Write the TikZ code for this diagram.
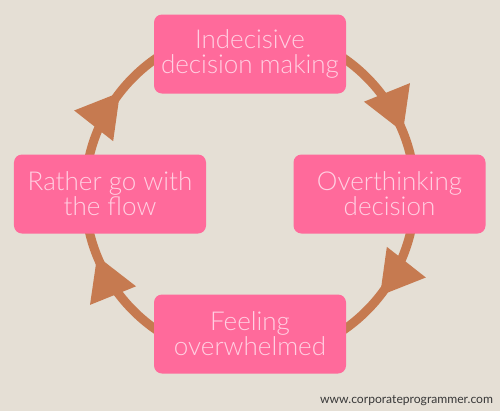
\documentclass[tikz,border=0pt]{standalone}
\usepackage{fontspec}
\newfontfamily\boxfont{Lato Light}
\newfontfamily\webfont{Lato}
\usetikzlibrary{arrows.meta,decorations.markings}
\definecolor{paper}{RGB}{229,223,213}
\definecolor{rust}{RGB}{198,122,80}
\definecolor{rose}{RGB}{255,106,155}
\definecolor{blush}{RGB}{255,208,226}

\begin{document}
\begin{tikzpicture}[every node/.style={outer sep=0pt},
 >={Triangle[length=0.86cm,width=0.94cm]},
 stage/.style={fill=rose,rounded corners=0.16cm,minimum width=3.84cm,
 minimum height=1.58cm,align=center,text=blush,
 font=\boxfont\fontsize{14.8}{14.2}\selectfont},
 ring/.style={draw=rust,line width=0.18cm,postaction={decorate},
 decoration={markings,
 mark=at position 0.189 with {\arrow{>}},
 mark=at position 0.356 with {\arrow{>}},
 mark=at position 0.689 with {\arrow{>}},
 mark=at position 0.856 with {\arrow{>}}}}]

\fill[paper] (-5,-4.34) rectangle (5,3.88);

\coordinate (hub) at (0,0);
\draw[ring] (hub) ++(90:3.3) arc[start angle=90,end angle=-270,radius=3.3];

\node[stage] (indecisive) at (0,2.8) {Indecisive\\decision making};
\node[stage] (overthink) at (2.79,0) {Overthinking\\decision};
\node[stage] (overwhelm) at (0,-2.8) {Feeling\\overwhelmed};
\node[stage] (flow) at (-2.8,0) {Rather go with\\the flow};

\node[anchor=base east,inner sep=0pt,text=black!78,
 font=\webfont\fontsize{6.9}{8}\selectfont]
 (site) at (4.86,-4.18) {www.corporateprogrammer.com};

\end{tikzpicture}
\end{document}
